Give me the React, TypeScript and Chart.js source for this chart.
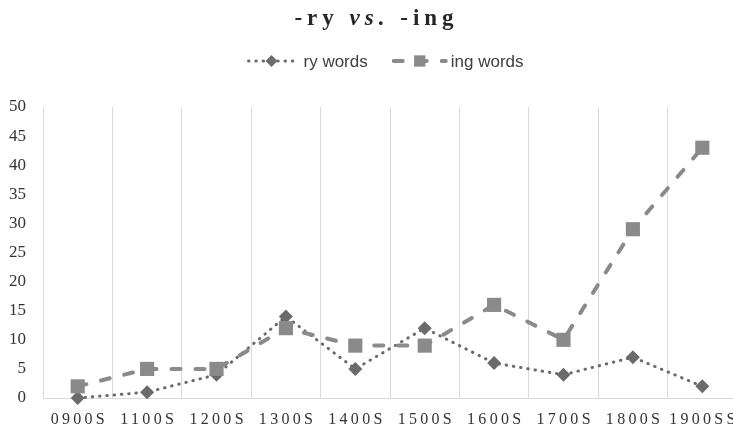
import React, { useEffect, useRef } from "react";
import { Chart, registerables } from "chart.js";

Chart.register(...registerables);

// ---- data ----
const categories = ["0900S", "1100S", "1200S", "1300S", "1400S", "1500S", "1600S", "1700S", "1800S", "1900SS"];
const ryWords = [0, 1, 4, 14, 5, 12, 6, 4, 7, 2];
const ingWords = [2, 5, 5, 12, 9, 9, 16, 10, 29, 43];
const seriesNames = ["ry words", "ing words"];
const yMin = 0;
const yMax = 50;
const yStep = 5;

const CANVAS_W = 748;
const CANVAS_H = 428;

const RY_COLOR = "#6b6b6b";
const ING_COLOR = "#8a8a8a";

function drawMarker(ctx: CanvasRenderingContext2D, style: string, x: number, y: number, r: number, color: string) {
  ctx.fillStyle = color;
  ctx.beginPath();
  if (style === "rectRot") {
    ctx.moveTo(x - r, y);
    ctx.lineTo(x, y - r);
    ctx.lineTo(x + r, y);
    ctx.lineTo(x, y + r);
    ctx.closePath();
  } else {
    const s = r * Math.SQRT1_2;
    ctx.rect(x - s, y - s, 2 * s, 2 * s);
  }
  ctx.fill();
}

const overlayPlugin = {
  id: "overlay",
  afterDraw(chart: any) {
    const ctx: CanvasRenderingContext2D = chart.ctx;
    const xs = chart.scales.x;
    // x-axis labels with letter spacing
    ctx.save();
    ctx.fillStyle = "#333333";
    ctx.font = "16px 'Liberation Serif'";
    ctx.textAlign = "left";
    ctx.textBaseline = "alphabetic";
    const spacing = 3.3;
    (chart.data.labels as string[]).forEach((lab, i) => {
      (ctx as any).letterSpacing = "0px";
      const w0 = ctx.measureText(lab).width;
      const w = w0 + spacing * (lab.length - 1);
      const cx = xs.getPixelForValue(i);
      (ctx as any).letterSpacing = spacing + "px";
      ctx.fillText(lab, cx - w / 2, chart.chartArea.bottom + 26);
    });
    (ctx as any).letterSpacing = "0px";
    ctx.restore();

    // legend
    ctx.save();
    ctx.font = "17px 'Liberation Sans'";
    ctx.textBaseline = "middle";
    ctx.textAlign = "left";
    const sampleW = [50, 56];
    const textGap = [7, 3];
    const itemGap = 24;
    const dsList = chart.data.datasets;
    const textWidths = dsList.map((d: any) => ctx.measureText(d.label).width);
    let total = 0;
    dsList.forEach((_d: any, i: number) => {
      total += sampleW[i] + textGap[i] + textWidths[i];
      if (i < dsList.length - 1) total += itemGap;
    });
    let x = 385 - total / 2;
    const y = 61;
    dsList.forEach((d: any, i: number) => {
      ctx.save();
      ctx.strokeStyle = d.borderColor;
      ctx.lineWidth = d.borderWidth;
      ctx.lineCap = d.borderCapStyle;
      ctx.setLineDash(d.borderDash);
      ctx.beginPath();
      ctx.moveTo(x + 2, y);
      ctx.lineTo(x + sampleW[i] - 2, y);
      ctx.stroke();
      ctx.setLineDash([]);
      drawMarker(ctx, d.pointStyle, x + sampleW[i] / 2, y, d.legendRadius, d.pointBackgroundColor);
      ctx.restore();
      ctx.fillStyle = "#404040";
      ctx.fillText(d.label, x + sampleW[i] + textGap[i], y + 1);
      x += sampleW[i] + textGap[i] + textWidths[i] + itemGap;
    });
    ctx.restore();
  },
};

export default function App() {
  const ref = useRef<HTMLCanvasElement | null>(null);

  useEffect(() => {
    if (!ref.current) return;
    const chart = new Chart(ref.current, {
      type: "line",
      data: {
        labels: categories,
        datasets: [
          {
            label: seriesNames[0],
            data: ryWords,
            order: 1,
            clip: false,
            borderColor: RY_COLOR,
            borderWidth: 3,
            borderDash: [0.5, 6.8],
            borderCapStyle: "round",
            pointStyle: "rectRot",
            pointRadius: 7,
            pointHoverRadius: 7,
            pointBackgroundColor: RY_COLOR,
            pointBorderWidth: 0,
            tension: 0,
            fill: false,
            legendRadius: 6,
          } as any,
          {
            label: seriesNames[1],
            data: ingWords,
            order: 0,
            clip: false,
            borderColor: ING_COLOR,
            borderWidth: 4,
            borderDash: [9, 15],
            borderCapStyle: "round",
            pointStyle: "rect",
            pointRadius: 10,
            pointHoverRadius: 10,
            pointBackgroundColor: ING_COLOR,
            pointBorderWidth: 0,
            tension: 0,
            fill: false,
            legendRadius: 8,
          } as any,
        ],
      },
      options: {
        animation: false,
        responsive: false,
        devicePixelRatio: 1,
        layout: { padding: { top: 107, left: 0, right: 11, bottom: 0 } },
        plugins: {
          legend: { display: false },
          title: { display: false },
          tooltip: { enabled: false },
        },
        scales: {
          x: {
            type: "category",
            offset: true,
            grid: { display: true, offset: true, color: "#d9d9d9", lineWidth: 1, drawTicks: false },
            border: { display: true, color: "#d9d9d9", width: 1 },
            ticks: { display: false },
            afterFit: (s: any) => {
              s.height = 30;
            },
          },
          y: {
            min: yMin,
            max: yMax,
            grid: { display: false, drawTicks: false },
            border: { display: false },
            ticks: {
              stepSize: yStep,
              padding: 17,
              color: "#333333",
              font: { family: "'Liberation Serif'", size: 17 },
            },
            afterFit: (s: any) => {
              s.width = 43;
            },
          },
        },
      },
      plugins: [overlayPlugin],
    });
    return () => chart.destroy();
  }, []);

  return (
    <div
      style={{
        position: "absolute",
        left: 0,
        top: 0,
        width: 733,
        height: 428,
        overflow: "hidden",
        background: "#ffffff",
      }}
    >
      <canvas ref={ref} width={CANVAS_W} height={CANVAS_H} style={{ display: "block", width: CANVAS_W, height: CANVAS_H }} />
      <div
        style={{
          position: "absolute",
          left: 0,
          top: 4,
          width: CANVAS_W,
          paddingLeft: 5,
          boxSizing: "border-box",
          textAlign: "center",
          fontFamily: "'Liberation Serif'",
          fontWeight: "bold",
          fontSize: 23,
          lineHeight: "28px",
          letterSpacing: "5px",
          color: "#262626",
        }}
      >
        -ry <i>vs.</i> -ing
      </div>
    </div>
  );
}
